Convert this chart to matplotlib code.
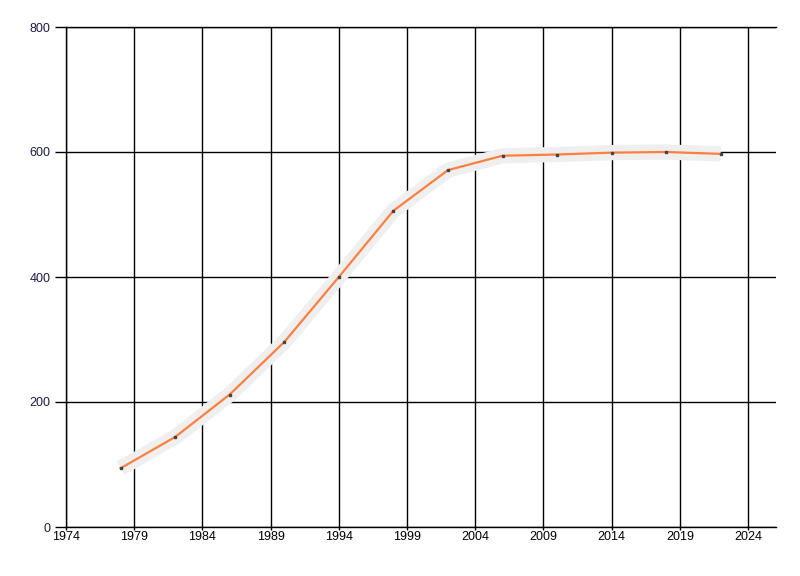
import matplotlib
matplotlib.use("Agg")
import matplotlib.pyplot as plt

years = [1978, 1982, 1986, 1990, 1994, 1998, 2002, 2006, 2010, 2014, 2018, 2022]
values = [94, 144, 212, 296, 400, 506, 571, 594, 596, 599, 600, 597]
x_ticks = [1974, 1979, 1984, 1989, 1994, 1999, 2004, 2009, 2014, 2019, 2024]
y_ticks = [0, 200, 400, 600, 800]

plt.rcParams['font.family'] = ['Liberation Sans', 'DejaVu Sans']

fig = plt.figure(figsize=(8, 5.76), dpi=100)
ax = fig.add_axes([66/800, 1 - 527/576, (776-66)/800, (527-27)/576])

ax.plot(years, values, color='#efefef', linewidth=11, solid_capstyle='butt',
        solid_joinstyle='round', zorder=2)
ax.plot(years, values, color='#ff7f40', linewidth=1.6, zorder=3,
        marker='s', markersize=2, markerfacecolor='#444444', markeredgecolor='#444444')

ax.set_xlim(1974, 2026.05)
ax.set_ylim(0, 800)
ax.set_xticks(x_ticks)
ax.set_yticks(y_ticks)
ax.grid(True, color='black', linewidth=1, zorder=1)
ax.set_axisbelow(True)
for side, s in ax.spines.items():
    if side == 'right':
        s.set_visible(False)
    else:
        s.set_color('black')
        s.set_linewidth(1)
        s.set_zorder(1)
ax.tick_params(axis='x', length=2, width=1, pad=1, labelsize=9, colors='black')
ax.tick_params(axis='y', length=8, width=1, pad=3, labelsize=9, colors='black')
for lbl in ax.get_yticklabels():
    lbl.set_color('#1a1a4a')

fig.savefig('out.png', dpi=100, facecolor='white')
